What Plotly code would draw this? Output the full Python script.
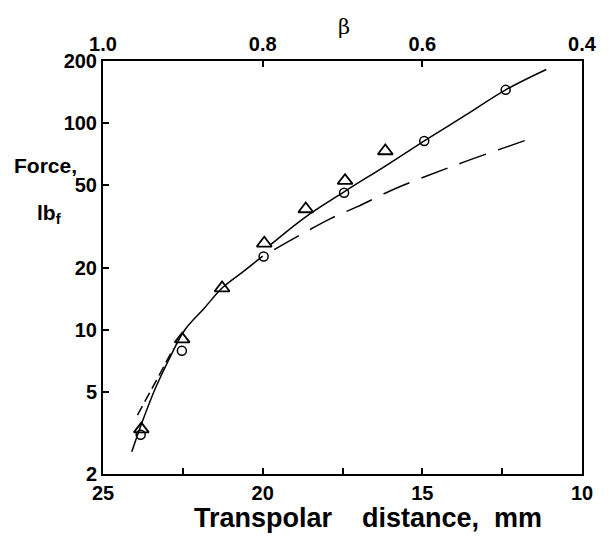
import plotly.graph_objects as go

# Measured data (transpolar distance mm, force lbf)
circle_x = [23.82, 22.53, 19.97, 17.45, 14.94, 12.39]
circle_y = [3.1, 7.9, 22.6, 46.0, 82.0, 145.0]
tri_x = [23.80, 22.52, 21.27, 19.95, 18.65, 17.42, 16.16]
tri_y = [3.3, 9.0, 15.9, 26.2, 38.4, 52.7, 73.3]

# Curves
solid_low_x = [24.10, 23.77, 23.36, 22.95, 22.44, 21.83, 21.27, 20.61, 20.00]
solid_low_y = [2.56, 3.58, 5.2, 7.1, 9.96, 12.7, 15.9, 19.1, 22.7]
solid_up_x = [19.75, 18.64, 17.45, 16.16, 14.94, 13.66, 12.39, 11.12]
solid_up_y = [25.8, 35.3, 46.5, 62.0, 82.0, 109.0, 145.0, 182.0]
dash_up_x = [19.64, 17.86, 17.05, 15.82, 14.04, 11.65]
dash_up_y = [24.4, 34.6, 39.3, 48.4, 62.0, 83.8]
dash_low_x = [23.92, 23.35, 22.80]
dash_low_y = [3.86, 5.6, 8.1]

x_ticks = [25, 20, 15, 10]
x_ticktext = ["25", "20", "15", "10"]
x_minor_ticks = [22.5, 17.5, 12.5]
beta_ticks = [1.0, 0.8, 0.6, 0.4]
beta_ticktext = ["1.0", "0.8", "0.6", "0.4"]
y_ticks = [2, 5, 10, 20, 50, 100, 200]
y_ticktext = ["2", "5", "10", "20", "50", "100", "200"]

FONT = "Liberation Sans"
BLACK = "black"

fig = go.Figure()
line_style = dict(color=BLACK, width=1.5)
fig.add_trace(go.Scatter(x=solid_low_x, y=solid_low_y, mode="lines",
                         line=dict(shape="spline", **line_style), showlegend=False))
fig.add_trace(go.Scatter(x=solid_up_x, y=solid_up_y, mode="lines",
                         line=dict(shape="spline", **line_style), showlegend=False))
fig.add_trace(go.Scatter(x=dash_up_x, y=dash_up_y, mode="lines",
                         line=dict(shape="spline", dash="28px,13px", **line_style), showlegend=False))
fig.add_trace(go.Scatter(x=dash_low_x, y=dash_low_y, mode="lines",
                         line=dict(shape="spline", dash="10px,5px", **line_style), showlegend=False))
fig.add_trace(go.Scatter(x=circle_x, y=circle_y, mode="markers",
                         marker=dict(symbol="circle-open", size=9, color=BLACK, line=dict(width=1.5)),
                         showlegend=False))
fig.add_trace(go.Scatter(x=tri_x, y=tri_y, mode="markers",
                         marker=dict(symbol="triangle-up-open", size=13, color=BLACK, line=dict(width=1.8)),
                         showlegend=False))
# invisible trace to anchor the top beta axis
fig.add_trace(go.Scatter(x=beta_ticks, y=[None]*len(beta_ticks), xaxis="x2", mode="markers",
                         marker=dict(opacity=0), showlegend=False, hoverinfo="skip"))

tickfont = dict(family=FONT, size=20, color=BLACK, weight="bold")

# The page body has an 8px margin, so the figure is sized to fill the rest of the window.
fig.update_layout(
    width=601, height=531,
    margin=dict(l=95, r=15, t=53, b=65),
    paper_bgcolor="white", plot_bgcolor="white",
    xaxis=dict(range=[25, 10], tickvals=x_ticks, ticktext=x_ticktext,
               ticks="inside", ticklen=6, tickwidth=1.5, tickcolor=BLACK,
               minor=dict(tickvals=x_minor_ticks, ticks="inside", ticklen=6,
                          tickwidth=1.5, tickcolor=BLACK, showgrid=False),
               showline=True, linecolor=BLACK, linewidth=2, mirror=False,
               showgrid=False, zeroline=False, tickfont=tickfont),
    xaxis2=dict(range=[1.0, 0.4], overlaying="x", side="top", anchor="y",
                tickvals=beta_ticks, ticktext=beta_ticktext,
                ticks="inside", ticklen=6, tickwidth=1.5, tickcolor=BLACK,
                showline=True, linecolor=BLACK, linewidth=2,
                showgrid=False, zeroline=False, tickfont=tickfont),
    yaxis=dict(type="log", range=[0.30103, 2.30103], tickvals=y_ticks, ticktext=y_ticktext,
               ticks="inside", ticklen=6, tickwidth=1.5, tickcolor=BLACK,
               showline=True, linecolor=BLACK, linewidth=2, mirror=True,
               showgrid=False, zeroline=False, tickfont=tickfont),
    annotations=[
        dict(text="Transpolar&nbsp;&nbsp;&nbsp;&nbsp;distance,&nbsp;&nbsp;mm", x=0.554, y=-0.1065,
             xref="paper", yref="paper", xanchor="center", yanchor="middle", showarrow=False,
             font=dict(family=FONT, size=27, color=BLACK, weight="bold")),
        dict(text="Force,", x=-0.120, y=0.746, xref="paper", yref="paper",
             xanchor="center", yanchor="middle", showarrow=False,
             font=dict(family=FONT, size=21, color=BLACK, weight="bold")),
        dict(text="lb<sub>f</sub>", x=-0.112, y=0.630, xref="paper", yref="paper",
             xanchor="center", yanchor="middle", showarrow=False,
             font=dict(family=FONT, size=21, color=BLACK, weight="bold")),
        dict(text="β", x=0.503, y=1.083, xref="paper", yref="paper",
             xanchor="center", yanchor="middle", showarrow=False,
             font=dict(family="DejaVu Serif", size=21, color=BLACK)),
    ],
)

fig.write_html("out.html")
